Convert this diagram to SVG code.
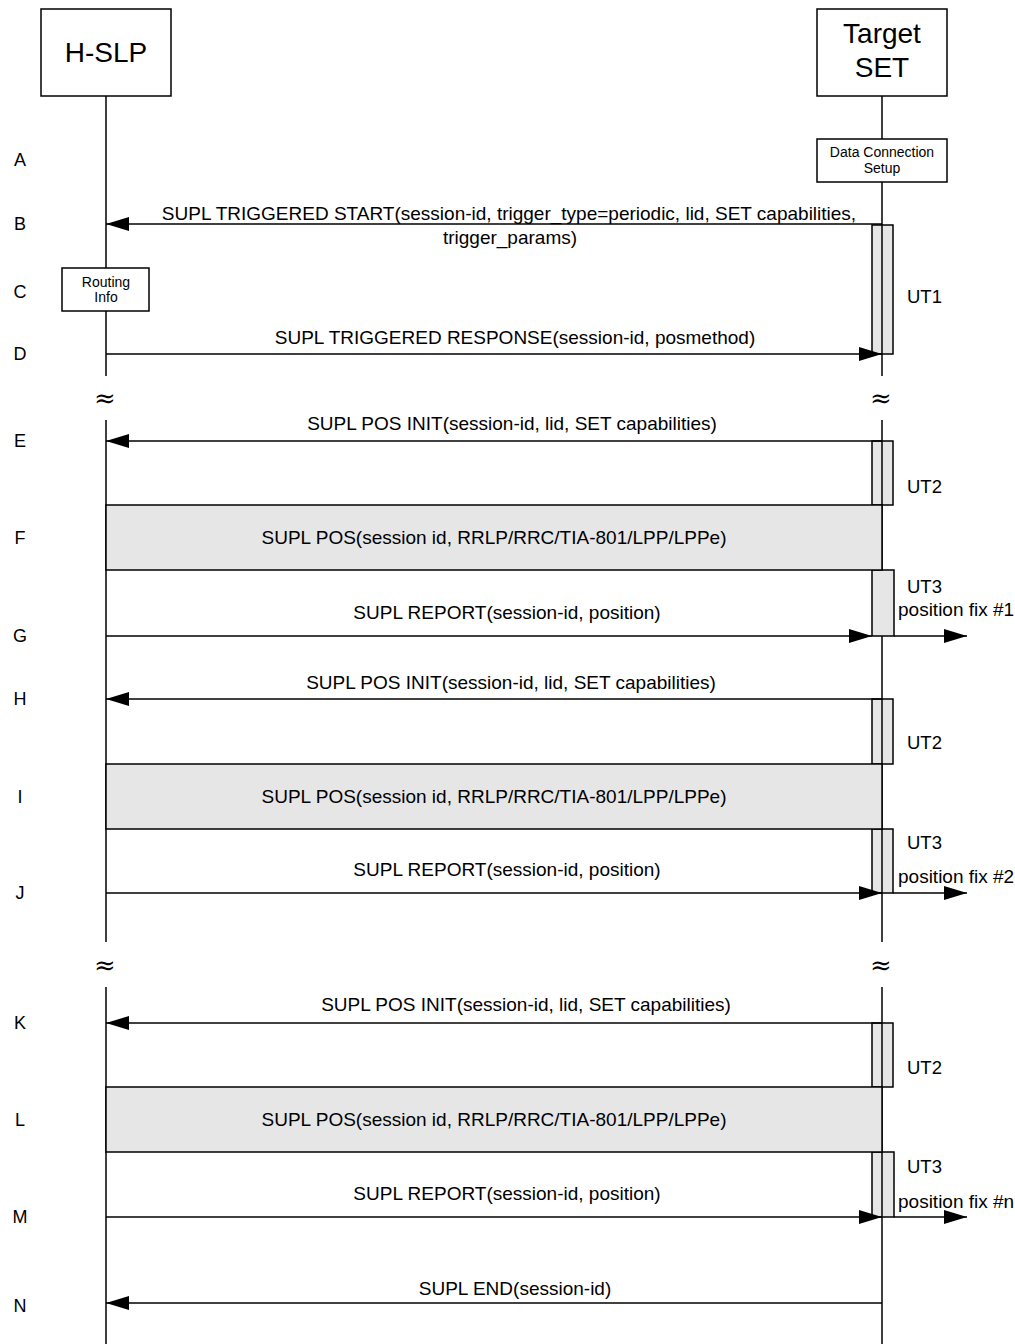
<svg xmlns="http://www.w3.org/2000/svg" width="1015" height="1344" viewBox="0 0 1015 1344">
<style>
text{font-family:"Liberation Sans",Arial,sans-serif;fill:#000}
.box{fill:#fff;stroke:#000;stroke-width:1.5}
.life{stroke:#000;stroke-width:1.5;fill:none}
.msg{stroke:#000;stroke-width:1.5;fill:none;marker-end:url(#ah)}
.bar{fill:#e6e6e6;stroke:#000;stroke-width:1.5}
.proc{fill:#e6e6e6;stroke:#000;stroke-width:1.5}
.hdr{font-size:28px;text-anchor:middle}
.lbl{font-size:19px;text-anchor:middle}
.step{font-size:18px;text-anchor:middle}
.small{font-size:14px;text-anchor:middle}
.ut{font-size:18.5px}
.fix{font-size:19px}
.brk{font-family:"DejaVu Serif",serif;font-size:26px;text-anchor:middle}
</style>
<defs>
<marker id="ah" markerUnits="userSpaceOnUse" markerWidth="24" markerHeight="16" refX="23" refY="7" orient="auto">
<path d="M0,0 L23,7 L0,14 z" fill="#000"/>
</marker>
</defs>
<g id="lifelines">
<line class="life" x1="106" y1="96" x2="106" y2="376"/>
<line class="life" x1="106" y1="420" x2="106" y2="942"/>
<line class="life" x1="106" y1="987" x2="106" y2="1344"/>
<line class="life" x1="882" y1="96" x2="882" y2="376"/>
<line class="life" x1="882" y1="420" x2="882" y2="942"/>
<line class="life" x1="882" y1="987" x2="882" y2="1344"/>
</g>
<g id="node-hslp">
<rect class="box" x="41" y="9" width="130" height="87"/>
<text class="hdr" x="106" y="62">H-SLP</text>
</g>
<g id="node-target-set">
<rect class="box" x="817" y="9" width="130" height="87"/>
<text class="hdr" x="882" y="43">Target</text>
<text class="hdr" x="882" y="77">SET</text>
</g>
<g id="step-labels">
<text class="step" x="20" y="166">A</text>
<text class="step" x="20" y="230">B</text>
<text class="step" x="20" y="298">C</text>
<text class="step" x="20" y="360">D</text>
<text class="step" x="20" y="447">E</text>
<text class="step" x="20" y="544">F</text>
<text class="step" x="20" y="642">G</text>
<text class="step" x="20" y="705">H</text>
<text class="step" x="20" y="803">I</text>
<text class="step" x="20" y="899">J</text>
<text class="step" x="20" y="1029">K</text>
<text class="step" x="20" y="1126">L</text>
<text class="step" x="20" y="1223">M</text>
<text class="step" x="20" y="1312">N</text>
</g>
<g id="breaks">
<text class="brk" x="105" y="407">≈</text>
<text class="brk" x="881" y="407">≈</text>
<text class="brk" x="105" y="974">≈</text>
<text class="brk" x="881" y="974">≈</text>
</g>
<g id="node-data-connection">
<rect class="box" x="817" y="139" width="130" height="43"/>
<text class="small" x="882" y="157">Data Connection</text>
<text class="small" x="882" y="173">Setup</text>
</g>
<g id="node-routing-info">
<rect class="box" x="62" y="268" width="87" height="43"/>
<text class="small" x="106" y="287">Routing</text>
<text class="small" x="106" y="302">Info</text>
</g>
<g id="timers">
<rect class="bar" x="872" y="225" width="21" height="129"/>
<line class="life" x1="882" y1="225" x2="882" y2="354"/>
<text class="ut" x="907" y="303">UT1</text>
<rect class="bar" x="872" y="441" width="21" height="64"/>
<line class="life" x1="882" y1="441" x2="882" y2="505"/>
<text class="ut" x="907" y="493">UT2</text>
<rect class="bar" x="872" y="570" width="22" height="66"/>
<text class="ut" x="907" y="593">UT3</text>
<text class="fix" x="898" y="616">position fix #1</text>
<rect class="bar" x="872" y="699" width="21" height="65"/>
<line class="life" x1="882" y1="699" x2="882" y2="764"/>
<text class="ut" x="907" y="749">UT2</text>
<rect class="bar" x="872" y="829" width="21" height="64"/>
<line class="life" x1="882" y1="829" x2="882" y2="893"/>
<text class="ut" x="907" y="849">UT3</text>
<text class="fix" x="898" y="883">position fix #2</text>
<rect class="bar" x="872" y="1023" width="21" height="64"/>
<line class="life" x1="882" y1="1023" x2="882" y2="1087"/>
<text class="ut" x="907" y="1074">UT2</text>
<rect class="bar" x="872" y="1152" width="22" height="65"/>
<line class="life" x1="882" y1="1152" x2="882" y2="1217"/>
<text class="ut" x="907" y="1173">UT3</text>
<text class="fix" x="898" y="1208">position fix #n</text>
</g>
<g id="proc-F">
<rect class="proc" x="106" y="505" width="776" height="65"/>
<text class="lbl" x="494" y="544">SUPL POS(session id, RRLP/RRC/TIA-801/LPP/LPPe)</text>
</g>
<g id="proc-I">
<rect class="proc" x="106" y="764" width="776" height="65"/>
<text class="lbl" x="494" y="803">SUPL POS(session id, RRLP/RRC/TIA-801/LPP/LPPe)</text>
</g>
<g id="proc-L">
<rect class="proc" x="106" y="1087" width="776" height="65"/>
<text class="lbl" x="494" y="1126">SUPL POS(session id, RRLP/RRC/TIA-801/LPP/LPPe)</text>
</g>
<g id="connectors">
<line class="msg" x1="882" y1="224" x2="106" y2="224"/>
<line class="msg" x1="106" y1="354" x2="882" y2="354"/>
<line class="msg" x1="882" y1="441" x2="106" y2="441"/>
<line class="msg" x1="106" y1="636" x2="872" y2="636"/>
<line class="msg" x1="894" y1="636" x2="967" y2="636"/>
<line class="msg" x1="882" y1="699" x2="106" y2="699"/>
<line class="msg" x1="106" y1="893" x2="882" y2="893"/>
<line class="msg" x1="893" y1="893" x2="967" y2="893"/>
<line class="msg" x1="882" y1="1023" x2="106" y2="1023"/>
<line class="msg" x1="106" y1="1217" x2="882" y2="1217"/>
<line class="msg" x1="894" y1="1217" x2="967" y2="1217"/>
<line class="msg" x1="882" y1="1303" x2="106" y2="1303"/>
</g>
<g id="connector-labels">
<text class="lbl" x="509" y="220">SUPL TRIGGERED START(session-id, trigger_type=periodic, lid, SET capabilities,</text>
<text class="lbl" x="510" y="244">trigger_params)</text>
<text class="lbl" x="515" y="344">SUPL TRIGGERED RESPONSE(session-id, posmethod)</text>
<text class="lbl" x="512" y="430">SUPL POS INIT(session-id, lid, SET capabilities)</text>
<text class="lbl" x="507" y="619">SUPL REPORT(session-id, position)</text>
<text class="lbl" x="511" y="689">SUPL POS INIT(session-id, lid, SET capabilities)</text>
<text class="lbl" x="507" y="876">SUPL REPORT(session-id, position)</text>
<text class="lbl" x="526" y="1011">SUPL POS INIT(session-id, lid, SET capabilities)</text>
<text class="lbl" x="507" y="1200">SUPL REPORT(session-id, position)</text>
<text class="lbl" x="515" y="1295">SUPL END(session-id)</text>
</g>
</svg>
